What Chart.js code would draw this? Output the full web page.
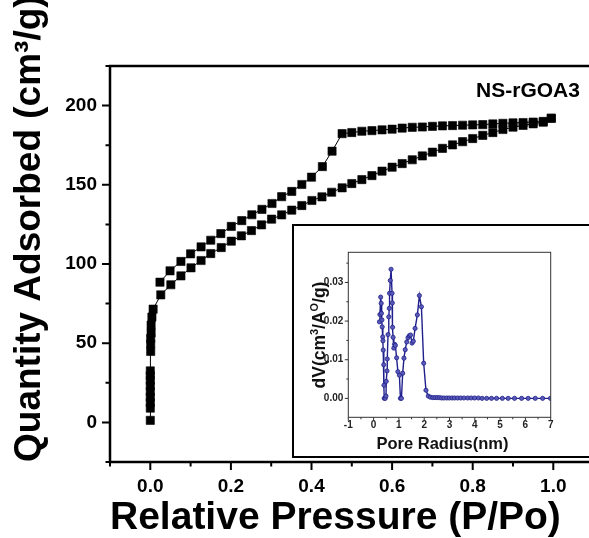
<!DOCTYPE html>
<html>
<head>
<meta charset="utf-8">
<script src="https://cdn.jsdelivr.net/npm/chart.js@4/dist/chart.umd.min.js"></script>
<style>
  html, body { margin: 0; padding: 0; background: #fff; overflow: hidden; width: 589px; height: 538px; }
  #wrap { position: relative; width: 589px; height: 538px; overflow: hidden; }
  #main { position: absolute; left: 0; top: 0; }
  #insetBox { position: absolute; left: 292px; top: 224px; width: 330px; height: 234px;
              border: 2px solid #000; background: #fff; box-sizing: border-box; }
  #inset { position: absolute; left: 0; top: 0; }
</style>
</head>
<body>
<div id="wrap">
  <canvas id="main" width="600" height="538"></canvas>
  <div id="insetBox"><canvas id="inset" width="320" height="230"></canvas></div>
</div>
<script>
// N2 isotherm of NS-rGOA3: adsorption branch (relative pressure, quantity adsorbed)
const adsP = [0.000, 0.000, 0.000, 0.000, 0.000, 0.000, 0.000, 0.000, 0.000,
  0.001, 0.001, 0.001, 0.002, 0.002, 0.004, 0.007,
  0.026, 0.051, 0.076, 0.101, 0.126, 0.150, 0.176, 0.201, 0.226, 0.251,
  0.276, 0.301, 0.326, 0.351, 0.376, 0.401, 0.426, 0.450, 0.476, 0.500,
  0.525, 0.550, 0.575, 0.600, 0.625, 0.650, 0.675, 0.700, 0.725, 0.750,
  0.775, 0.800, 0.825, 0.850, 0.875, 0.900, 0.925, 0.950, 0.975, 0.995];
const adsQ = [1.3, 9.0, 12.5, 16.0, 19.5, 23.0, 26.5, 29.5, 32.5,
  44.8, 49.5, 53.0, 56.5, 61.4, 66.5, 71.5,
  80.5, 86.9, 92.5, 97.6, 102.2, 106.6, 110.4, 114.4, 117.8, 121.1,
  124.7, 128.3, 131.0, 134.0, 136.9, 140.1, 142.4, 145.3, 148.1, 150.8,
  153.3, 155.8, 158.6, 161.1, 163.4, 165.8, 168.2, 170.6, 173.0, 175.2,
  177.2, 179.2, 181.2, 183.0, 184.9, 186.4, 187.5, 188.5, 189.5, 192.0];

// desorption branch, from high to low relative pressure
const desP = [0.995, 0.975, 0.950, 0.925, 0.900, 0.875, 0.850, 0.825, 0.800, 0.775,
  0.750, 0.725, 0.700, 0.675, 0.650, 0.625, 0.600, 0.575, 0.550, 0.525,
  0.500, 0.476, 0.451, 0.427, 0.400, 0.376, 0.351, 0.326, 0.302, 0.277,
  0.252, 0.227, 0.201, 0.175, 0.150, 0.126, 0.100, 0.076, 0.049, 0.024];
const desQ = [192.0, 190.0, 189.6, 189.3, 189.1, 188.8, 188.4, 188.0, 187.8, 187.6,
  187.4, 187.2, 186.9, 186.5, 186.3, 185.8, 185.1, 184.7, 184.2, 183.8,
  183.0, 182.3, 171.2, 161.5, 154.8, 150.2, 145.8, 142.5, 138.2, 134.5,
  131.1, 127.4, 123.7, 119.2, 115.0, 110.8, 106.4, 101.6, 95.7, 88.5];

// pore size distribution (pore radius in nm, dV)
const poreR = [0.23, 0.25, 0.28, 0.30, 0.31, 0.33, 0.34, 0.36, 0.37, 0.38,
  0.40, 0.41, 0.42, 0.46, 0.49, 0.50, 0.53, 0.54, 0.57, 0.60,
  0.62, 0.63, 0.66, 0.69, 0.73, 0.74, 0.75, 0.77, 0.80, 0.83,
  0.86, 0.91, 0.96, 1.02, 1.06, 1.10, 1.15, 1.20, 1.25, 1.31,
  1.36, 1.41, 1.46, 1.52, 1.57, 1.64, 1.73, 1.81, 1.89, 1.98,
  2.07, 2.16, 2.25, 2.34, 2.43, 2.52, 2.60, 2.69, 2.78, 2.89,
  2.99, 3.10, 3.20, 3.32, 3.44, 3.57, 3.72, 3.85, 3.99, 4.14,
  4.29, 4.47, 4.66, 4.86, 5.09, 5.32, 5.57, 5.85, 6.11, 6.39,
  6.68, 6.99];
const poreDV = [0.0198, 0.0217, 0.0262, 0.0246, 0.0220, 0.0203, 0.0185, 0.0159, 0.0149, 0.0125,
  0.0087, 0.0034, 0.0000, 0.0000, 0.0006, 0.0044, 0.0071, 0.0102, 0.0165, 0.0211,
  0.0233, 0.0272, 0.0305, 0.0334, 0.0272, 0.0247, 0.0184, 0.0158, 0.0130, 0.0140,
  0.0137, 0.0105, 0.0069, 0.0060, 0.0000, 0.0000, 0.0065, 0.0104, 0.0126, 0.0146,
  0.0157, 0.0162, 0.0164, 0.0143, 0.0148, 0.0181, 0.0216, 0.0266, 0.0237, 0.0091,
  0.0021, 0.0006, 0.0003, 0.0002, 0.0002, 0.0002, 0.0002, 0.0001, 0.0001, 0.0001,
  0.0001, 0.0001, 0.0001, 0.0001, 0.0001, 0.0001, 0.0001, 0.0001, 0.0001, 0.0001,
  0.0000, 0.0000, 0.0000, 0.0000, 0.0000, 0.0000, 0.0000, 0.0000, 0.0000, 0.0000,
  0.0000, 0.0000];

// tick labels
const mainTicksX = [0, 0.2, 0.4, 0.6, 0.8, 1.0];
const mainTicksY = [0, 50, 100, 150, 200];
const insetTicksX = [-1, 0, 1, 2, 3, 4, 5, 6, 7];
const insetTicksY = [0, 0.01, 0.02, 0.03];

const FONT = "'Liberation Sans', Arial, Helvetica, sans-serif";
const sampleName = 'NS-rGOA3';

function pts(xs, ys) { return xs.map((v, i) => ({ x: v, y: ys[i] })); }

// Frame, tick marks (major + minor) and the sample name for the isotherm
const mainDecor = {
  id: 'mainDecor',
  afterDraw(chart) {
    const { ctx, chartArea: a, scales: { x, y } } = chart;
    ctx.save();
    ctx.strokeStyle = '#000';
    ctx.lineWidth = 2.5;
    ctx.strokeRect(a.left, a.top, a.right - a.left, a.bottom - a.top);
    ctx.lineWidth = 2;
    ctx.beginPath();
    for (let k = -1; k <= 11; k++) {
      const px = x.getPixelForValue(k / 10);
      const len = (k % 2 === 0) ? 8 : 4.5;
      ctx.moveTo(px, a.bottom);
      ctx.lineTo(px, a.bottom + len);
    }
    for (let k = -1; k <= 9; k++) {
      const py = y.getPixelForValue(k * 25);
      const len = (k % 2 === 0) ? 8 : 4.5;
      ctx.moveTo(a.left, py);
      ctx.lineTo(a.left - len, py);
    }
    ctx.stroke();
    ctx.fillStyle = '#000';
    ctx.font = 'bold 21px ' + FONT;
    ctx.textAlign = 'center';
    ctx.textBaseline = 'middle';
    ctx.fillText(sampleName, 528, 91);
    ctx.restore();
  }
};

new Chart(document.getElementById('main'), {
  type: 'scatter',
  data: {
    datasets: [
      { label: 'Adsorption', data: pts(adsP, adsQ), showLine: true, tension: 0,
        borderColor: '#000', borderWidth: 1, pointStyle: 'rect', pointRadius: 5.8,
        pointBackgroundColor: '#000', pointBorderColor: '#000', pointBorderWidth: 0.6 },
      { label: 'Desorption', data: pts(desP, desQ), showLine: true, tension: 0,
        borderColor: '#000', borderWidth: 1, pointStyle: 'rect', pointRadius: 5.8,
        pointBackgroundColor: '#000', pointBorderColor: '#000', pointBorderWidth: 0.6 }
    ]
  },
  options: {
    responsive: false, animation: false, events: [],
    layout: { padding: { top: 66, right: 3.4, left: 0, bottom: 0 } },
    plugins: { legend: { display: false }, tooltip: { enabled: false } },
    scales: {
      x: {
        type: 'linear', min: -0.1, max: 1.1,
        afterBuildTicks: s => { s.ticks = mainTicksX.map(v => ({ value: v })); },
        afterFit: s => { s.height = 76; },
        grid: { display: false, drawTicks: false }, border: { display: false },
        ticks: { font: { family: FONT, size: 19, weight: 'bold' }, color: '#000', padding: 13,
                 autoSkip: false, maxRotation: 0, callback: v => Number(v).toFixed(1) },
        title: { display: true, text: 'Relative Pressure (P/Po)', align: 'start', color: '#000',
                 font: { family: FONT, size: 39, weight: 'bold', lineHeight: 1 },
                 padding: { top: 0, bottom: 0 } }
      },
      y: {
        type: 'linear', min: -25, max: 225,
        afterBuildTicks: s => { s.ticks = mainTicksY.map(v => ({ value: v })); },
        afterFit: s => { s.width = 110; },
        grid: { display: false, drawTicks: false }, border: { display: false },
        ticks: { font: { family: FONT, size: 19, weight: 'bold' }, color: '#000', padding: 13,
                 autoSkip: false, callback: v => String(v) },
        title: { display: true, text: 'Quantity Adsorbed (cm\u00B3/g)', align: 'start', color: '#000',
                 font: { family: FONT, size: 37, weight: 'bold', lineHeight: 1.2 },
                 padding: { top: 8, bottom: 0 } }
      }
    }
  },
  plugins: [mainDecor]
});

// text with superscript parts, centred on (cx, cy), optionally rotated
function drawRich(ctx, parts, cx, cy, rot, size) {
  ctx.save();
  ctx.translate(cx, cy);
  ctx.rotate(rot);
  ctx.textAlign = 'left';
  ctx.textBaseline = 'alphabetic';
  const fontOf = p => 'bold ' + (p.sup ? size * 0.62 : size) + 'px ' + FONT;
  const widths = parts.map(p => { ctx.font = fontOf(p); return ctx.measureText(p.t).width; });
  const total = widths.reduce((s, w) => s + w, 0);
  let xx = -total / 2;
  const base = size * 0.358;
  parts.forEach((p, i) => {
    ctx.font = fontOf(p);
    ctx.fillText(p.t, xx, p.sup ? base - size * 0.42 : base);
    xx += widths[i];
  });
  ctx.restore();
}

// Frame, tick marks and axis titles of the pore size plot
const insetDecor = {
  id: 'insetDecor',
  afterDraw(chart) {
    const { ctx, chartArea: a, scales: { x, y } } = chart;
    ctx.save();
    ctx.strokeStyle = '#333';
    ctx.lineWidth = 1;
    ctx.strokeRect(a.left, a.top, a.right - a.left, a.bottom - a.top);
    ctx.beginPath();
    for (let k = -2; k <= 14; k++) {
      const px = x.getPixelForValue(k / 2);
      const len = (k % 2 === 0) ? 3.5 : 2;
      ctx.moveTo(px, a.bottom);
      ctx.lineTo(px, a.bottom + len);
    }
    for (let k = 0; k <= 7; k++) {
      const py = y.getPixelForValue(k * 0.005);
      if (py < a.top) continue;
      const len = (k % 2 === 0) ? 3.5 : 2;
      ctx.moveTo(a.left, py);
      ctx.lineTo(a.left - len, py);
    }
    ctx.stroke();
    ctx.fillStyle = '#111';
    ctx.font = 'bold 16.5px ' + FONT;
    ctx.textAlign = 'center';
    ctx.textBaseline = 'alphabetic';
    ctx.fillText('Pore Radius(nm)', 148.5, 216.7 + 16.5 * 0.358);
    drawRich(ctx, [
      { t: 'dV(cm' }, { t: '3', sup: true }, { t: '/A' }, { t: 'O', sup: true }, { t: '/g)' }
    ], 25, 109, -Math.PI / 2, 17.5);
    ctx.restore();
  }
};

new Chart(document.getElementById('inset'), {
  type: 'scatter',
  data: {
    datasets: [
      { label: 'dV', data: pts(poreR, poreDV), showLine: true, tension: 0,
        borderColor: '#1f1f8c', borderWidth: 1.4, pointRadius: 2.1,
        pointBackgroundColor: '#5a5ab8', pointBorderColor: '#1f1f8c', pointBorderWidth: 0.8 }
    ]
  },
  options: {
    responsive: false, animation: false, events: [],
    layout: { padding: { top: 26.3, right: 63.3, left: 0, bottom: 0 } },
    plugins: { legend: { display: false }, tooltip: { enabled: false } },
    scales: {
      x: {
        type: 'linear', min: -1, max: 7,
        afterBuildTicks: s => { s.ticks = insetTicksX.map(v => ({ value: v })); },
        afterFit: s => { s.height = 38.7; },
        grid: { display: false, drawTicks: false }, border: { display: false },
        ticks: { font: { family: FONT, size: 10, weight: 'bold' }, color: '#222', padding: 2,
                 autoSkip: false, maxRotation: 0, callback: v => String(v) }
      },
      y: {
        type: 'linear', min: -0.0049, max: 0.0378,
        afterBuildTicks: s => { s.ticks = insetTicksY.map(v => ({ value: v })); },
        afterFit: s => { s.width = 54.3; },
        grid: { display: false, drawTicks: false }, border: { display: false },
        ticks: { font: { family: FONT, size: 10, weight: 'bold' }, color: '#222', padding: 5,
                 autoSkip: false, callback: v => Number(v).toFixed(2) }
      }
    }
  },
  plugins: [insetDecor]
});
</script>
</body>
</html>
